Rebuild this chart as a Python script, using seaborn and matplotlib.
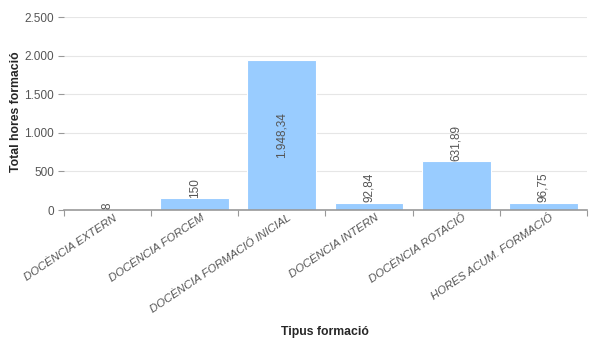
import matplotlib
matplotlib.use("Agg")
import matplotlib.pyplot as plt
import matplotlib.transforms as mtransforms
import seaborn as sns
import pandas as pd
from matplotlib.ticker import FixedLocator, FuncFormatter

# dades del gràfic
categories = ["DOCÈNCIA EXTERN", "DOCÈNCIA FORCEM", "DOCÈNCIA FORMACIÓ INICIAL",
              "DOCÈNCIA INTERN", "DOCÈNCIA ROTACIÓ", "HORES ACUM. FORMACIÓ"]
hores = [8, 150, 1948.34, 92.84, 631.89, 96.75]
yticks = [0, 500, 1000, 1500, 2000, 2500]


def fmt_cat(v, decimals=None):
    # format català: punt de milers, coma decimal
    if decimals is None:
        decimals = 0 if float(v).is_integer() else 2
    s = f"{v:,.{decimals}f}"
    return s.replace(",", "X").replace(".", ",").replace("X", ".")


df = pd.DataFrame({"tipus": categories, "hores": hores})

sns.set_style("white")
plt.rcParams["font.family"] = ["Liberation Sans", "DejaVu Sans"]

fig = plt.figure(figsize=(5.9, 3.41), dpi=100)
ax = fig.add_axes([0.108, 0.384, 0.887, 0.566])

sns.barplot(data=df, x="tipus", y="hores", color="#99ccff", saturation=1,
            width=0.79, edgecolor="white", linewidth=0.8, ax=ax, zorder=2)

ax.set_ylim(0, 2500)
ax.set_xlim(-0.5, len(categories) - 0.5)
ax.set_yticks(yticks)
ax.yaxis.set_major_formatter(FuncFormatter(lambda v, p: fmt_cat(v, 0)))
ax.grid(axis="y", color="#e6e6e6", linewidth=0.8, zorder=0)
ax.set_axisbelow(True)

for s in ["top", "right", "left"]:
    ax.spines[s].set_visible(False)
ax.spines["bottom"].set_color("#999999")
ax.spines["bottom"].set_linewidth(1.2)

ax.tick_params(axis="y", length=4, width=0.8, color="#999999",
               labelsize=8.5, labelcolor="#555555", pad=3, left=True)
ax.tick_params(axis="x", which="major", length=0, labelsize=8.2,
               labelcolor="#555555", pad=2)
ax.xaxis.set_minor_locator(FixedLocator([i - 0.5 for i in range(len(categories) + 1)]))
ax.tick_params(axis="x", which="minor", length=4, width=0.8, color="#999999", bottom=True)

# etiquetes inclinades, desplaçades una mica a la dreta
shift = mtransforms.ScaledTranslation(6 / 100, 0, fig.dpi_scale_trans)
for lab in ax.get_xticklabels():
    lab.set_rotation(34)
    lab.set_ha("right")
    lab.set_va("top")
    lab.set_rotation_mode("anchor")
    lab.set_fontstyle("italic")
    lab.set_transform(lab.get_transform() + shift)

# etiquetes dels valors
for i, v in enumerate(hores):
    txt = fmt_cat(v)
    if v > 1700:
        ax.text(i, v / 2, txt, rotation=90, ha="center", va="center",
                fontsize=8.5, color="#555555")
    else:
        ax.text(i, v + 10, txt, rotation=90, ha="center", va="bottom",
                fontsize=8.5, color="#555555")

ax.set_ylabel("Total hores formació", fontsize=8.8, fontweight="bold")
ax.yaxis.set_label_coords(-0.08, 0.51)
ax.set_xlabel("Tipus formació", fontsize=8.8, fontweight="bold")
ax.xaxis.set_label_coords(0.5, -0.6)

fig.savefig("out.png", dpi=100)
